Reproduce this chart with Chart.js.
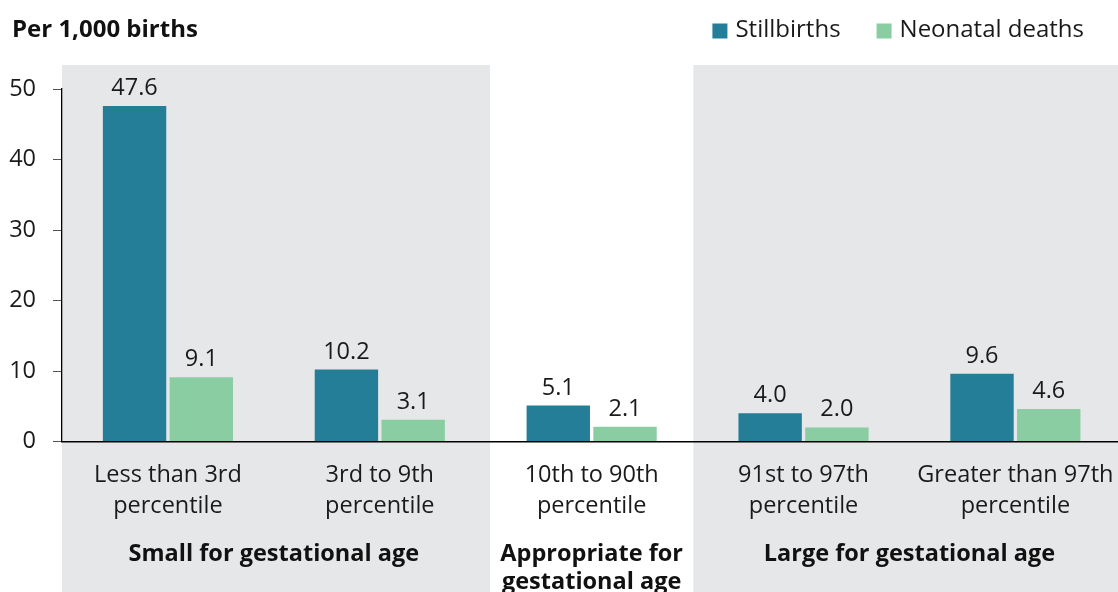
<!DOCTYPE html>
<html>
<head>
<meta charset="utf-8">
<script src="https://cdn.jsdelivr.net/npm/chart.js@4"></script>
<style>
  html, body { margin: 0; padding: 0; background: #fff; overflow: hidden; }
  #wrap { width: 1118px; height: 592px; overflow: hidden; }
</style>
</head>
<body>
<div id="wrap"><canvas id="myChart" width="1124" height="592"></canvas></div>
<script>
// data
const categories = [
  ['Less than 3rd', 'percentile'],
  ['3rd to 9th', 'percentile'],
  ['10th to 90th', 'percentile'],
  ['91st to 97th', 'percentile'],
  ['Greater than 97th', 'percentile'],
];
const stillbirths = [47.6, 10.2, 5.1, 4.0, 9.6];
const neonatalDeaths = [9.1, 3.1, 2.1, 2.0, 4.6];
const yTicks = [0, 10, 20, 30, 40, 50];

const groupNames = [
  ['Small for gestational age'],
  ['Appropriate for', 'gestational age'],
  ['Large for gestational age'],
];
const groupStart = [0, 2, 3];
const groupEnd = [1, 2, 4];
const groupShaded = [true, false, true];

const seriesNames = ['Stillbirths', 'Neonatal deaths'];
const seriesColors = ['#247e97', '#8acda2'];

const FONT = '"Open Sans", "Noto Sans", sans-serif';
const SIZE = 23.5;
const TEXT = '#1a1a1a';

// grey panels behind the groups
const backdrop = {
  id: 'backdrop',
  beforeDraw(chart) {
    const { ctx, chartArea, scales: { x } } = chart;
    const last = categories.length - 1;
    ctx.save();
    ctx.fillStyle = '#e6e7e9';
    groupStart.forEach((s, i) => {
      if (!groupShaded[i]) return;
      const l = s === 0 ? chartArea.left : x.getPixelForValue(s - 0.52);
      const r = groupEnd[i] === last ? chart.width : x.getPixelForValue(groupEnd[i] + 0.52);
      ctx.fillRect(l, chartArea.top - 24, r - l, chart.height - chartArea.top + 24);
    });
    ctx.restore();
  },
};

// values over bars
const valueLabels = {
  id: 'valueLabels',
  afterDatasetsDraw(chart) {
    const { ctx } = chart;
    ctx.save();
    ctx.font = `${SIZE}px ${FONT}`;
    ctx.fillStyle = TEXT;
    ctx.textAlign = 'center';
    ctx.textBaseline = 'alphabetic';
    chart.data.datasets.forEach((ds, i) => {
      chart.getDatasetMeta(i).data.forEach((bar, j) => {
        ctx.fillText(ds.data[j].toFixed(1), bar.x, bar.y - 11);
      });
    });
    ctx.restore();
  },
};

// title, legend, group captions
const extras = {
  id: 'extras',
  afterDraw(chart) {
    const { ctx, scales: { x } } = chart;
    ctx.save();
    ctx.fillStyle = '#111';
    ctx.textBaseline = 'middle';

    ctx.font = `bold 24px ${FONT}`;
    ctx.textAlign = 'left';
    ctx.fillText('Per 1,000 births', 12, 30);

    // legend, laid out from the right
    ctx.font = `24px ${FONT}`;
    const box = 15, gap = 8, between = 36;
    let right = 1084;
    const pos = [];
    for (let i = seriesNames.length - 1; i >= 0; i--) {
      const w = ctx.measureText(seriesNames[i]).width;
      const bx = right - w - gap - box;
      pos[i] = bx;
      right = bx - between;
    }
    seriesNames.forEach((name, i) => {
      ctx.fillStyle = seriesColors[i];
      ctx.fillRect(pos[i], 23.5, box, box);
      ctx.fillStyle = TEXT;
      ctx.fillText(name, pos[i] + box + gap, 30.5);
    });

    ctx.fillStyle = '#111';
    ctx.font = `bold ${SIZE}px ${FONT}`;
    ctx.textAlign = 'center';
    groupNames.forEach((lines, i) => {
      const cx = (x.getPixelForValue(groupStart[i]) + x.getPixelForValue(groupEnd[i])) / 2;
      lines.forEach((t, k) => ctx.fillText(t, cx, 554 + k * 28));
    });
    ctx.restore();
  },
};

new Chart(document.getElementById('myChart'), {
  type: 'bar',
  data: {
    labels: categories,
    datasets: [
      { label: seriesNames[0], data: stillbirths, backgroundColor: seriesColors[0] },
      { label: seriesNames[1], data: neonatalDeaths, backgroundColor: seriesColors[1] },
    ],
  },
  options: {
    responsive: false,
    animation: false,
    devicePixelRatio: 1,
    categoryPercentage: 0.63,
    barPercentage: 0.95,
    layout: { padding: { top: 89, right: 0, left: 0, bottom: 0 } },
    plugins: {
      legend: { display: false },
      title: { display: false },
      tooltip: { enabled: false },
    },
    scales: {
      x: {
        grid: { display: false },
        border: { color: '#000', width: 1.6 },
        ticks: {
          color: TEXT,
          font: { family: FONT, size: SIZE, lineHeight: 1.32 },
          padding: 10.5,
          maxRotation: 0,
          autoSkip: false,
        },
        afterFit(s) { s.height = 150.5; },
      },
      y: {
        min: 0,
        max: 50,
        afterBuildTicks(s) { s.ticks = yTicks.map(v => ({ value: v })); },
        grid: { drawOnChartArea: false, tickLength: 9, color: '#555' },
        border: { color: '#000', width: 1.3 },
        ticks: {
          color: TEXT,
          font: { family: FONT, size: SIZE },
          padding: 17,
        },
        afterFit(s) { s.width = 62; },
      },
    },
  },
  plugins: [backdrop, valueLabels, extras],
});
</script>
</body>
</html>
